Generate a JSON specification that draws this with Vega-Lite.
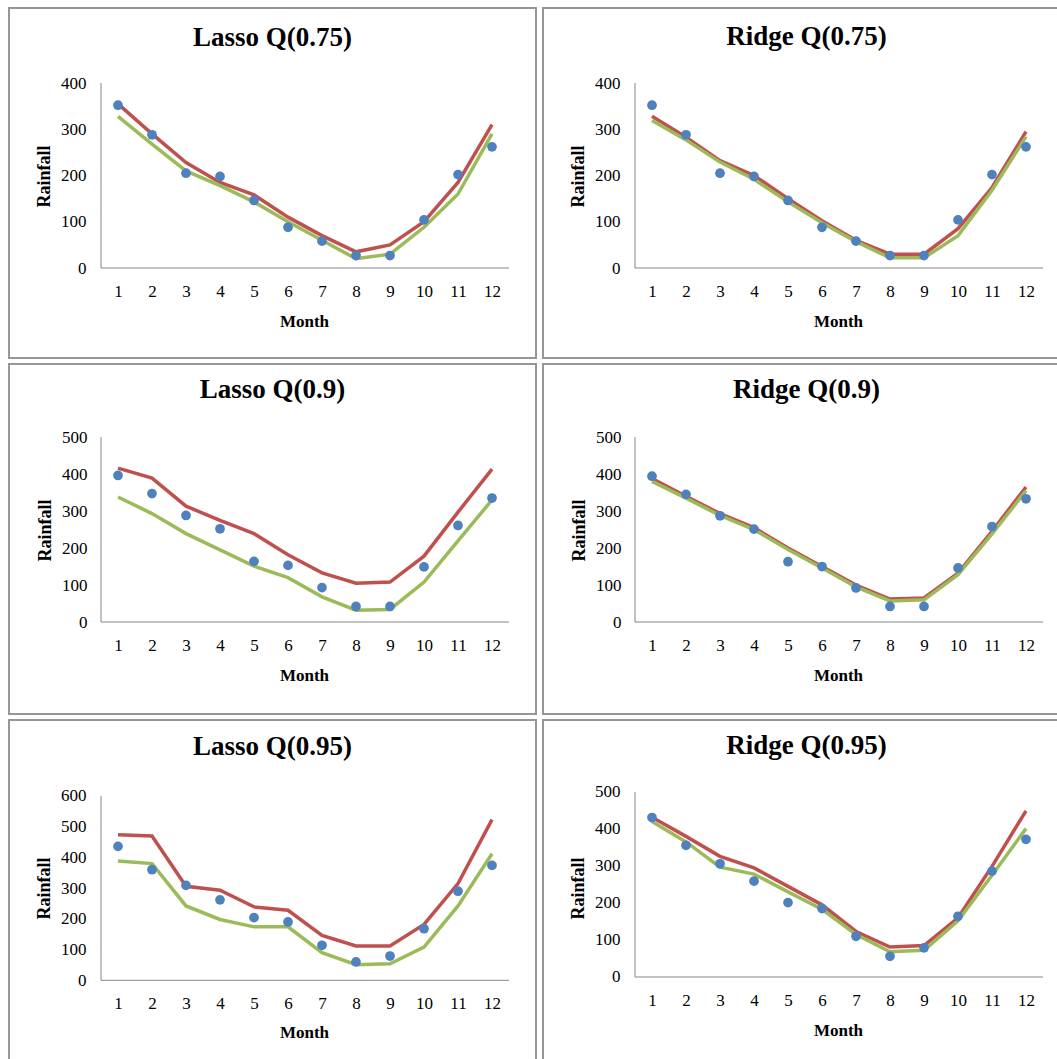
{
  "$schema": "https://vega.github.io/schema/vega-lite/v6.json",
  "padding": {"left": 8, "top": 7, "right": 0, "bottom": 0},
  "background": "#ffffff",
  "datasets": {
    "rain": [
      {"panel": "Lasso Q(0.75)", "month": 1, "actual": 352, "fitA": 355, "fitB": 328},
      {"panel": "Lasso Q(0.75)", "month": 2, "actual": 288, "fitA": 290, "fitB": 268},
      {"panel": "Lasso Q(0.75)", "month": 3, "actual": 205, "fitA": 228, "fitB": 210},
      {"panel": "Lasso Q(0.75)", "month": 4, "actual": 198, "fitA": 185, "fitB": 178},
      {"panel": "Lasso Q(0.75)", "month": 5, "actual": 146, "fitA": 158, "fitB": 143},
      {"panel": "Lasso Q(0.75)", "month": 6, "actual": 88, "fitA": 110, "fitB": 100},
      {"panel": "Lasso Q(0.75)", "month": 7, "actual": 58, "fitA": 70, "fitB": 60},
      {"panel": "Lasso Q(0.75)", "month": 8, "actual": 27, "fitA": 35, "fitB": 20},
      {"panel": "Lasso Q(0.75)", "month": 9, "actual": 27, "fitA": 50, "fitB": 30},
      {"panel": "Lasso Q(0.75)", "month": 10, "actual": 104, "fitA": 100, "fitB": 88},
      {"panel": "Lasso Q(0.75)", "month": 11, "actual": 202, "fitA": 185, "fitB": 160},
      {"panel": "Lasso Q(0.75)", "month": 12, "actual": 262, "fitA": 310, "fitB": 290},
      {"panel": "Ridge Q(0.75)", "month": 1, "actual": 352, "fitA": 328, "fitB": 319},
      {"panel": "Ridge Q(0.75)", "month": 2, "actual": 288, "fitA": 283, "fitB": 277},
      {"panel": "Ridge Q(0.75)", "month": 3, "actual": 205, "fitA": 232, "fitB": 229},
      {"panel": "Ridge Q(0.75)", "month": 4, "actual": 198, "fitA": 200, "fitB": 192},
      {"panel": "Ridge Q(0.75)", "month": 5, "actual": 146, "fitA": 150, "fitB": 143},
      {"panel": "Ridge Q(0.75)", "month": 6, "actual": 88, "fitA": 102, "fitB": 98},
      {"panel": "Ridge Q(0.75)", "month": 7, "actual": 58, "fitA": 60, "fitB": 57},
      {"panel": "Ridge Q(0.75)", "month": 8, "actual": 27, "fitA": 30, "fitB": 22},
      {"panel": "Ridge Q(0.75)", "month": 9, "actual": 27, "fitA": 30, "fitB": 22},
      {"panel": "Ridge Q(0.75)", "month": 10, "actual": 104, "fitA": 85, "fitB": 70},
      {"panel": "Ridge Q(0.75)", "month": 11, "actual": 202, "fitA": 174, "fitB": 168},
      {"panel": "Ridge Q(0.75)", "month": 12, "actual": 262, "fitA": 295, "fitB": 284},
      {"panel": "Lasso Q(0.9)", "month": 1, "actual": 396, "fitA": 416, "fitB": 338},
      {"panel": "Lasso Q(0.9)", "month": 2, "actual": 347, "fitA": 389, "fitB": 293},
      {"panel": "Lasso Q(0.9)", "month": 3, "actual": 288, "fitA": 313, "fitB": 239},
      {"panel": "Lasso Q(0.9)", "month": 4, "actual": 252, "fitA": 275, "fitB": 195},
      {"panel": "Lasso Q(0.9)", "month": 5, "actual": 164, "fitA": 239, "fitB": 151},
      {"panel": "Lasso Q(0.9)", "month": 6, "actual": 153, "fitA": 182, "fitB": 120},
      {"panel": "Lasso Q(0.9)", "month": 7, "actual": 93, "fitA": 133, "fitB": 68},
      {"panel": "Lasso Q(0.9)", "month": 8, "actual": 42, "fitA": 105, "fitB": 32},
      {"panel": "Lasso Q(0.9)", "month": 9, "actual": 42, "fitA": 108, "fitB": 34},
      {"panel": "Lasso Q(0.9)", "month": 10, "actual": 149, "fitA": 178, "fitB": 108},
      {"panel": "Lasso Q(0.9)", "month": 11, "actual": 261, "fitA": 297, "fitB": 219},
      {"panel": "Lasso Q(0.9)", "month": 12, "actual": 335, "fitA": 413, "fitB": 330},
      {"panel": "Ridge Q(0.9)", "month": 1, "actual": 394, "fitA": 388, "fitB": 380},
      {"panel": "Ridge Q(0.9)", "month": 2, "actual": 345, "fitA": 340, "fitB": 335},
      {"panel": "Ridge Q(0.9)", "month": 3, "actual": 287, "fitA": 293, "fitB": 288},
      {"panel": "Ridge Q(0.9)", "month": 4, "actual": 251, "fitA": 255, "fitB": 250},
      {"panel": "Ridge Q(0.9)", "month": 5, "actual": 163, "fitA": 200, "fitB": 196},
      {"panel": "Ridge Q(0.9)", "month": 6, "actual": 150, "fitA": 150, "fitB": 146},
      {"panel": "Ridge Q(0.9)", "month": 7, "actual": 92, "fitA": 100, "fitB": 95},
      {"panel": "Ridge Q(0.9)", "month": 8, "actual": 42, "fitA": 62, "fitB": 57},
      {"panel": "Ridge Q(0.9)", "month": 9, "actual": 42, "fitA": 65, "fitB": 60},
      {"panel": "Ridge Q(0.9)", "month": 10, "actual": 146, "fitA": 132, "fitB": 128},
      {"panel": "Ridge Q(0.9)", "month": 11, "actual": 258, "fitA": 245, "fitB": 238},
      {"panel": "Ridge Q(0.9)", "month": 12, "actual": 333, "fitA": 365, "fitB": 355},
      {"panel": "Lasso Q(0.95)", "month": 1, "actual": 436, "fitA": 474, "fitB": 388},
      {"panel": "Lasso Q(0.95)", "month": 2, "actual": 360, "fitA": 470, "fitB": 380},
      {"panel": "Lasso Q(0.95)", "month": 3, "actual": 309, "fitA": 306, "fitB": 242},
      {"panel": "Lasso Q(0.95)", "month": 4, "actual": 262, "fitA": 293, "fitB": 198},
      {"panel": "Lasso Q(0.95)", "month": 5, "actual": 204, "fitA": 239, "fitB": 174},
      {"panel": "Lasso Q(0.95)", "month": 6, "actual": 190, "fitA": 228, "fitB": 174},
      {"panel": "Lasso Q(0.95)", "month": 7, "actual": 114, "fitA": 146, "fitB": 90},
      {"panel": "Lasso Q(0.95)", "month": 8, "actual": 60, "fitA": 112, "fitB": 51},
      {"panel": "Lasso Q(0.95)", "month": 9, "actual": 79, "fitA": 112, "fitB": 54},
      {"panel": "Lasso Q(0.95)", "month": 10, "actual": 168, "fitA": 182, "fitB": 108},
      {"panel": "Lasso Q(0.95)", "month": 11, "actual": 290, "fitA": 315, "fitB": 242},
      {"panel": "Lasso Q(0.95)", "month": 12, "actual": 374, "fitA": 523, "fitB": 412},
      {"panel": "Ridge Q(0.95)", "month": 1, "actual": 431, "fitA": 432, "fitB": 420},
      {"panel": "Ridge Q(0.95)", "month": 2, "actual": 356, "fitA": 380, "fitB": 365},
      {"panel": "Ridge Q(0.95)", "month": 3, "actual": 306, "fitA": 326, "fitB": 297},
      {"panel": "Ridge Q(0.95)", "month": 4, "actual": 259, "fitA": 295, "fitB": 278},
      {"panel": "Ridge Q(0.95)", "month": 5, "actual": 201, "fitA": 245, "fitB": 230},
      {"panel": "Ridge Q(0.95)", "month": 6, "actual": 185, "fitA": 195, "fitB": 183},
      {"panel": "Ridge Q(0.95)", "month": 7, "actual": 110, "fitA": 123, "fitB": 115},
      {"panel": "Ridge Q(0.95)", "month": 8, "actual": 56, "fitA": 81, "fitB": 68},
      {"panel": "Ridge Q(0.95)", "month": 9, "actual": 79, "fitA": 85, "fitB": 72},
      {"panel": "Ridge Q(0.95)", "month": 10, "actual": 164, "fitA": 160, "fitB": 152},
      {"panel": "Ridge Q(0.95)", "month": 11, "actual": 286, "fitA": 299, "fitB": 275},
      {"panel": "Ridge Q(0.95)", "month": 12, "actual": 372, "fitA": 449, "fitB": 401}
    ]
  },
  "spacing": 4,
  "vconcat": [
    {
      "spacing": 5,
      "hconcat": [
        {
          "width": 527, "height": 350,
          "data": {"name": "rain"},
          "transform": [{"filter": "datum.panel === 'Lasso Q(0.75)'"}],
          "title": {"text": "Lasso Q(0.75)", "offset": -44},
          "layer": [
            {"mark": {"type": "circle", "color": "#4F81BD", "size": 95, "opacity": 0},
             "encoding": {"x": {"field": "month", "type": "quantitative", "scale": {"domain": [-2.206, 13.294], "nice": false, "zero": false},
                                "axis": {"values": [1, 2, 3, 4, 5, 6, 7, 8, 9, 10, 11, 12], "title": "Month", "offset": -90, "titleX": 295, "titleY": 53}},
                          "y": {"field": "actual", "type": "quantitative", "scale": {"domain": [-194.6, 562.2], "nice": false, "zero": false},
                                "axis": {"values": [0, 100, 200, 300, 400], "title": "Rainfall", "offset": -92, "titleY": 168}}}},
            {"data": {"values": [{}]}, "mark": {"type": "rule", "color": "#868686", "strokeWidth": 1},
             "encoding": {"x": {"datum": 0.5, "type": "quantitative"}, "y": {"datum": 0, "type": "quantitative"}, "y2": {"datum": 400}}},
            {"data": {"values": [{}]}, "mark": {"type": "rule", "color": "#868686", "strokeWidth": 1},
             "encoding": {"x": {"datum": 0.5, "type": "quantitative"}, "x2": {"datum": 12.5}, "y": {"datum": 0, "type": "quantitative"}}},
            {"mark": {"type": "line", "color": "#C0504D", "strokeWidth": 3.5},
             "encoding": {"x": {"field": "month", "type": "quantitative"}, "y": {"field": "fitA", "type": "quantitative"}}},
            {"mark": {"type": "line", "color": "#9BBB59", "strokeWidth": 3.5},
             "encoding": {"x": {"field": "month", "type": "quantitative"}, "y": {"field": "fitB", "type": "quantitative"}}},
            {"mark": {"type": "circle", "color": "#4F81BD", "size": 95, "opacity": 1},
             "encoding": {"x": {"field": "month", "type": "quantitative"}, "y": {"field": "actual", "type": "quantitative"}}}
          ]
        },
        {
          "width": 527, "height": 350,
          "data": {"name": "rain"},
          "transform": [{"filter": "datum.panel === 'Ridge Q(0.75)'"}],
          "title": {"text": "Ridge Q(0.75)", "offset": -43},
          "layer": [
            {"mark": {"type": "circle", "color": "#4F81BD", "size": 95, "opacity": 0},
             "encoding": {"x": {"field": "month", "type": "quantitative", "scale": {"domain": [-2.206, 13.294], "nice": false, "zero": false},
                                "axis": {"values": [1, 2, 3, 4, 5, 6, 7, 8, 9, 10, 11, 12], "title": "Month", "offset": -90, "titleX": 295, "titleY": 53}},
                          "y": {"field": "actual", "type": "quantitative", "scale": {"domain": [-194.6, 562.2], "nice": false, "zero": false},
                                "axis": {"values": [0, 100, 200, 300, 400], "title": "Rainfall", "offset": -92, "titleY": 168}}}},
            {"data": {"values": [{}]}, "mark": {"type": "rule", "color": "#868686", "strokeWidth": 1},
             "encoding": {"x": {"datum": 0.5, "type": "quantitative"}, "y": {"datum": 0, "type": "quantitative"}, "y2": {"datum": 400}}},
            {"data": {"values": [{}]}, "mark": {"type": "rule", "color": "#868686", "strokeWidth": 1},
             "encoding": {"x": {"datum": 0.5, "type": "quantitative"}, "x2": {"datum": 12.5}, "y": {"datum": 0, "type": "quantitative"}}},
            {"mark": {"type": "line", "color": "#C0504D", "strokeWidth": 3.5},
             "encoding": {"x": {"field": "month", "type": "quantitative"}, "y": {"field": "fitA", "type": "quantitative"}}},
            {"mark": {"type": "line", "color": "#9BBB59", "strokeWidth": 3.5},
             "encoding": {"x": {"field": "month", "type": "quantitative"}, "y": {"field": "fitB", "type": "quantitative"}}},
            {"mark": {"type": "circle", "color": "#4F81BD", "size": 95, "opacity": 1},
             "encoding": {"x": {"field": "month", "type": "quantitative"}, "y": {"field": "actual", "type": "quantitative"}}}
          ]
        }
      ]
    },
    {
      "spacing": 5,
      "hconcat": [
        {
          "width": 527, "height": 350,
          "data": {"name": "rain"},
          "transform": [{"filter": "datum.panel === 'Lasso Q(0.9)'"}],
          "title": {"text": "Lasso Q(0.9)", "offset": -40},
          "layer": [
            {"mark": {"type": "circle", "color": "#4F81BD", "size": 95, "opacity": 0},
             "encoding": {"x": {"field": "month", "type": "quantitative", "scale": {"domain": [-2.206, 13.294], "nice": false, "zero": false},
                                "axis": {"values": [1, 2, 3, 4, 5, 6, 7, 8, 9, 10, 11, 12], "title": "Month", "offset": -92, "titleX": 295, "titleY": 53}},
                          "y": {"field": "actual", "type": "quantitative", "scale": {"domain": [-248.6, 697.3], "nice": false, "zero": false},
                                "axis": {"values": [0, 100, 200, 300, 400, 500], "title": "Rainfall", "offset": -93, "titleY": 166}}}},
            {"data": {"values": [{}]}, "mark": {"type": "rule", "color": "#868686", "strokeWidth": 1},
             "encoding": {"x": {"datum": 0.5, "type": "quantitative"}, "y": {"datum": 0, "type": "quantitative"}, "y2": {"datum": 500}}},
            {"data": {"values": [{}]}, "mark": {"type": "rule", "color": "#868686", "strokeWidth": 1},
             "encoding": {"x": {"datum": 0.5, "type": "quantitative"}, "x2": {"datum": 12.5}, "y": {"datum": 0, "type": "quantitative"}}},
            {"mark": {"type": "line", "color": "#C0504D", "strokeWidth": 3.5},
             "encoding": {"x": {"field": "month", "type": "quantitative"}, "y": {"field": "fitA", "type": "quantitative"}}},
            {"mark": {"type": "line", "color": "#9BBB59", "strokeWidth": 3.5},
             "encoding": {"x": {"field": "month", "type": "quantitative"}, "y": {"field": "fitB", "type": "quantitative"}}},
            {"mark": {"type": "circle", "color": "#4F81BD", "size": 95, "opacity": 1},
             "encoding": {"x": {"field": "month", "type": "quantitative"}, "y": {"field": "actual", "type": "quantitative"}}}
          ]
        },
        {
          "width": 527, "height": 350,
          "data": {"name": "rain"},
          "transform": [{"filter": "datum.panel === 'Ridge Q(0.9)'"}],
          "title": {"text": "Ridge Q(0.9)", "offset": -40},
          "layer": [
            {"mark": {"type": "circle", "color": "#4F81BD", "size": 95, "opacity": 0},
             "encoding": {"x": {"field": "month", "type": "quantitative", "scale": {"domain": [-2.206, 13.294], "nice": false, "zero": false},
                                "axis": {"values": [1, 2, 3, 4, 5, 6, 7, 8, 9, 10, 11, 12], "title": "Month", "offset": -92, "titleX": 295, "titleY": 53}},
                          "y": {"field": "actual", "type": "quantitative", "scale": {"domain": [-248.6, 697.3], "nice": false, "zero": false},
                                "axis": {"values": [0, 100, 200, 300, 400, 500], "title": "Rainfall", "offset": -93, "titleY": 166}}}},
            {"data": {"values": [{}]}, "mark": {"type": "rule", "color": "#868686", "strokeWidth": 1},
             "encoding": {"x": {"datum": 0.5, "type": "quantitative"}, "y": {"datum": 0, "type": "quantitative"}, "y2": {"datum": 500}}},
            {"data": {"values": [{}]}, "mark": {"type": "rule", "color": "#868686", "strokeWidth": 1},
             "encoding": {"x": {"datum": 0.5, "type": "quantitative"}, "x2": {"datum": 12.5}, "y": {"datum": 0, "type": "quantitative"}}},
            {"mark": {"type": "line", "color": "#C0504D", "strokeWidth": 3.5},
             "encoding": {"x": {"field": "month", "type": "quantitative"}, "y": {"field": "fitA", "type": "quantitative"}}},
            {"mark": {"type": "line", "color": "#9BBB59", "strokeWidth": 3.5},
             "encoding": {"x": {"field": "month", "type": "quantitative"}, "y": {"field": "fitB", "type": "quantitative"}}},
            {"mark": {"type": "circle", "color": "#4F81BD", "size": 95, "opacity": 1},
             "encoding": {"x": {"field": "month", "type": "quantitative"}, "y": {"field": "actual", "type": "quantitative"}}}
          ]
        }
      ]
    },
    {
      "spacing": 5,
      "hconcat": [
        {
          "width": 527, "height": 350,
          "data": {"name": "rain"},
          "transform": [{"filter": "datum.panel === 'Lasso Q(0.95)'"}],
          "title": {"text": "Lasso Q(0.95)", "offset": -41},
          "layer": [
            {"mark": {"type": "circle", "color": "#4F81BD", "size": 95, "opacity": 0},
             "encoding": {"x": {"field": "month", "type": "quantitative", "scale": {"domain": [-2.206, 13.294], "nice": false, "zero": false},
                                "axis": {"values": [1, 2, 3, 4, 5, 6, 7, 8, 9, 10, 11, 12], "title": "Month", "offset": -90, "titleX": 295, "titleY": 52}},
                          "y": {"field": "actual", "type": "quantitative", "scale": {"domain": [-292, 847.4], "nice": false, "zero": false},
                                "axis": {"values": [0, 100, 200, 300, 400, 500, 600], "title": "Rainfall", "offset": -92, "titleY": 168}}}},
            {"data": {"values": [{}]}, "mark": {"type": "rule", "color": "#868686", "strokeWidth": 1},
             "encoding": {"x": {"datum": 0.5, "type": "quantitative"}, "y": {"datum": 0, "type": "quantitative"}, "y2": {"datum": 600}}},
            {"data": {"values": [{}]}, "mark": {"type": "rule", "color": "#868686", "strokeWidth": 1},
             "encoding": {"x": {"datum": 0.5, "type": "quantitative"}, "x2": {"datum": 12.5}, "y": {"datum": 0, "type": "quantitative"}}},
            {"mark": {"type": "line", "color": "#C0504D", "strokeWidth": 3.5},
             "encoding": {"x": {"field": "month", "type": "quantitative"}, "y": {"field": "fitA", "type": "quantitative"}}},
            {"mark": {"type": "line", "color": "#9BBB59", "strokeWidth": 3.5},
             "encoding": {"x": {"field": "month", "type": "quantitative"}, "y": {"field": "fitB", "type": "quantitative"}}},
            {"mark": {"type": "circle", "color": "#4F81BD", "size": 95, "opacity": 1},
             "encoding": {"x": {"field": "month", "type": "quantitative"}, "y": {"field": "actual", "type": "quantitative"}}}
          ]
        },
        {
          "width": 527, "height": 350,
          "data": {"name": "rain"},
          "transform": [{"filter": "datum.panel === 'Ridge Q(0.95)'"}],
          "title": {"text": "Ridge Q(0.95)", "offset": -40},
          "layer": [
            {"mark": {"type": "circle", "color": "#4F81BD", "size": 95, "opacity": 0},
             "encoding": {"x": {"field": "month", "type": "quantitative", "scale": {"domain": [-2.206, 13.294], "nice": false, "zero": false},
                                "axis": {"values": [1, 2, 3, 4, 5, 6, 7, 8, 9, 10, 11, 12], "title": "Month", "offset": -93, "titleX": 295, "titleY": 53}},
                          "y": {"field": "actual", "type": "quantitative", "scale": {"domain": [-251.4, 694.6], "nice": false, "zero": false},
                                "axis": {"values": [0, 100, 200, 300, 400, 500], "title": "Rainfall", "offset": -92, "titleY": 168}}}},
            {"data": {"values": [{}]}, "mark": {"type": "rule", "color": "#868686", "strokeWidth": 1},
             "encoding": {"x": {"datum": 0.5, "type": "quantitative"}, "y": {"datum": 0, "type": "quantitative"}, "y2": {"datum": 500}}},
            {"data": {"values": [{}]}, "mark": {"type": "rule", "color": "#868686", "strokeWidth": 1},
             "encoding": {"x": {"datum": 0.5, "type": "quantitative"}, "x2": {"datum": 12.5}, "y": {"datum": 0, "type": "quantitative"}}},
            {"mark": {"type": "line", "color": "#C0504D", "strokeWidth": 3.5},
             "encoding": {"x": {"field": "month", "type": "quantitative"}, "y": {"field": "fitA", "type": "quantitative"}}},
            {"mark": {"type": "line", "color": "#9BBB59", "strokeWidth": 3.5},
             "encoding": {"x": {"field": "month", "type": "quantitative"}, "y": {"field": "fitB", "type": "quantitative"}}},
            {"mark": {"type": "circle", "color": "#4F81BD", "size": 95, "opacity": 1},
             "encoding": {"x": {"field": "month", "type": "quantitative"}, "y": {"field": "actual", "type": "quantitative"}}}
          ]
        }
      ]
    }
  ],
  "config": {
    "view": {"stroke": "#969696", "strokeWidth": 2},
    "title": {"font": "Liberation Serif", "fontSize": 27, "fontWeight": "bold", "color": "#000000", "anchor": "middle", "frame": "group", "baseline": "alphabetic"},
    "axis": {
      "domain": false, "ticks": false, "tickSize": 0, "grid": false,
      "labelFont": "Liberation Serif", "labelFontSize": 17, "labelColor": "#000000",
      "labelPadding": 15, "labelFlush": false, "labelOverlap": false,
      "titleFont": "Liberation Serif", "titleFontSize": 17, "titleFontWeight": "bold", "titleColor": "#000000"
    },
    "axisX": {"titleBaseline": "middle", "titleAlign": "center", "titleAngle": 0},
    "axisY": {"titleX": -57, "titleAngle": 270, "titleBaseline": "middle", "titleAlign": "center", "titleFontSize": 18}
  }
}
